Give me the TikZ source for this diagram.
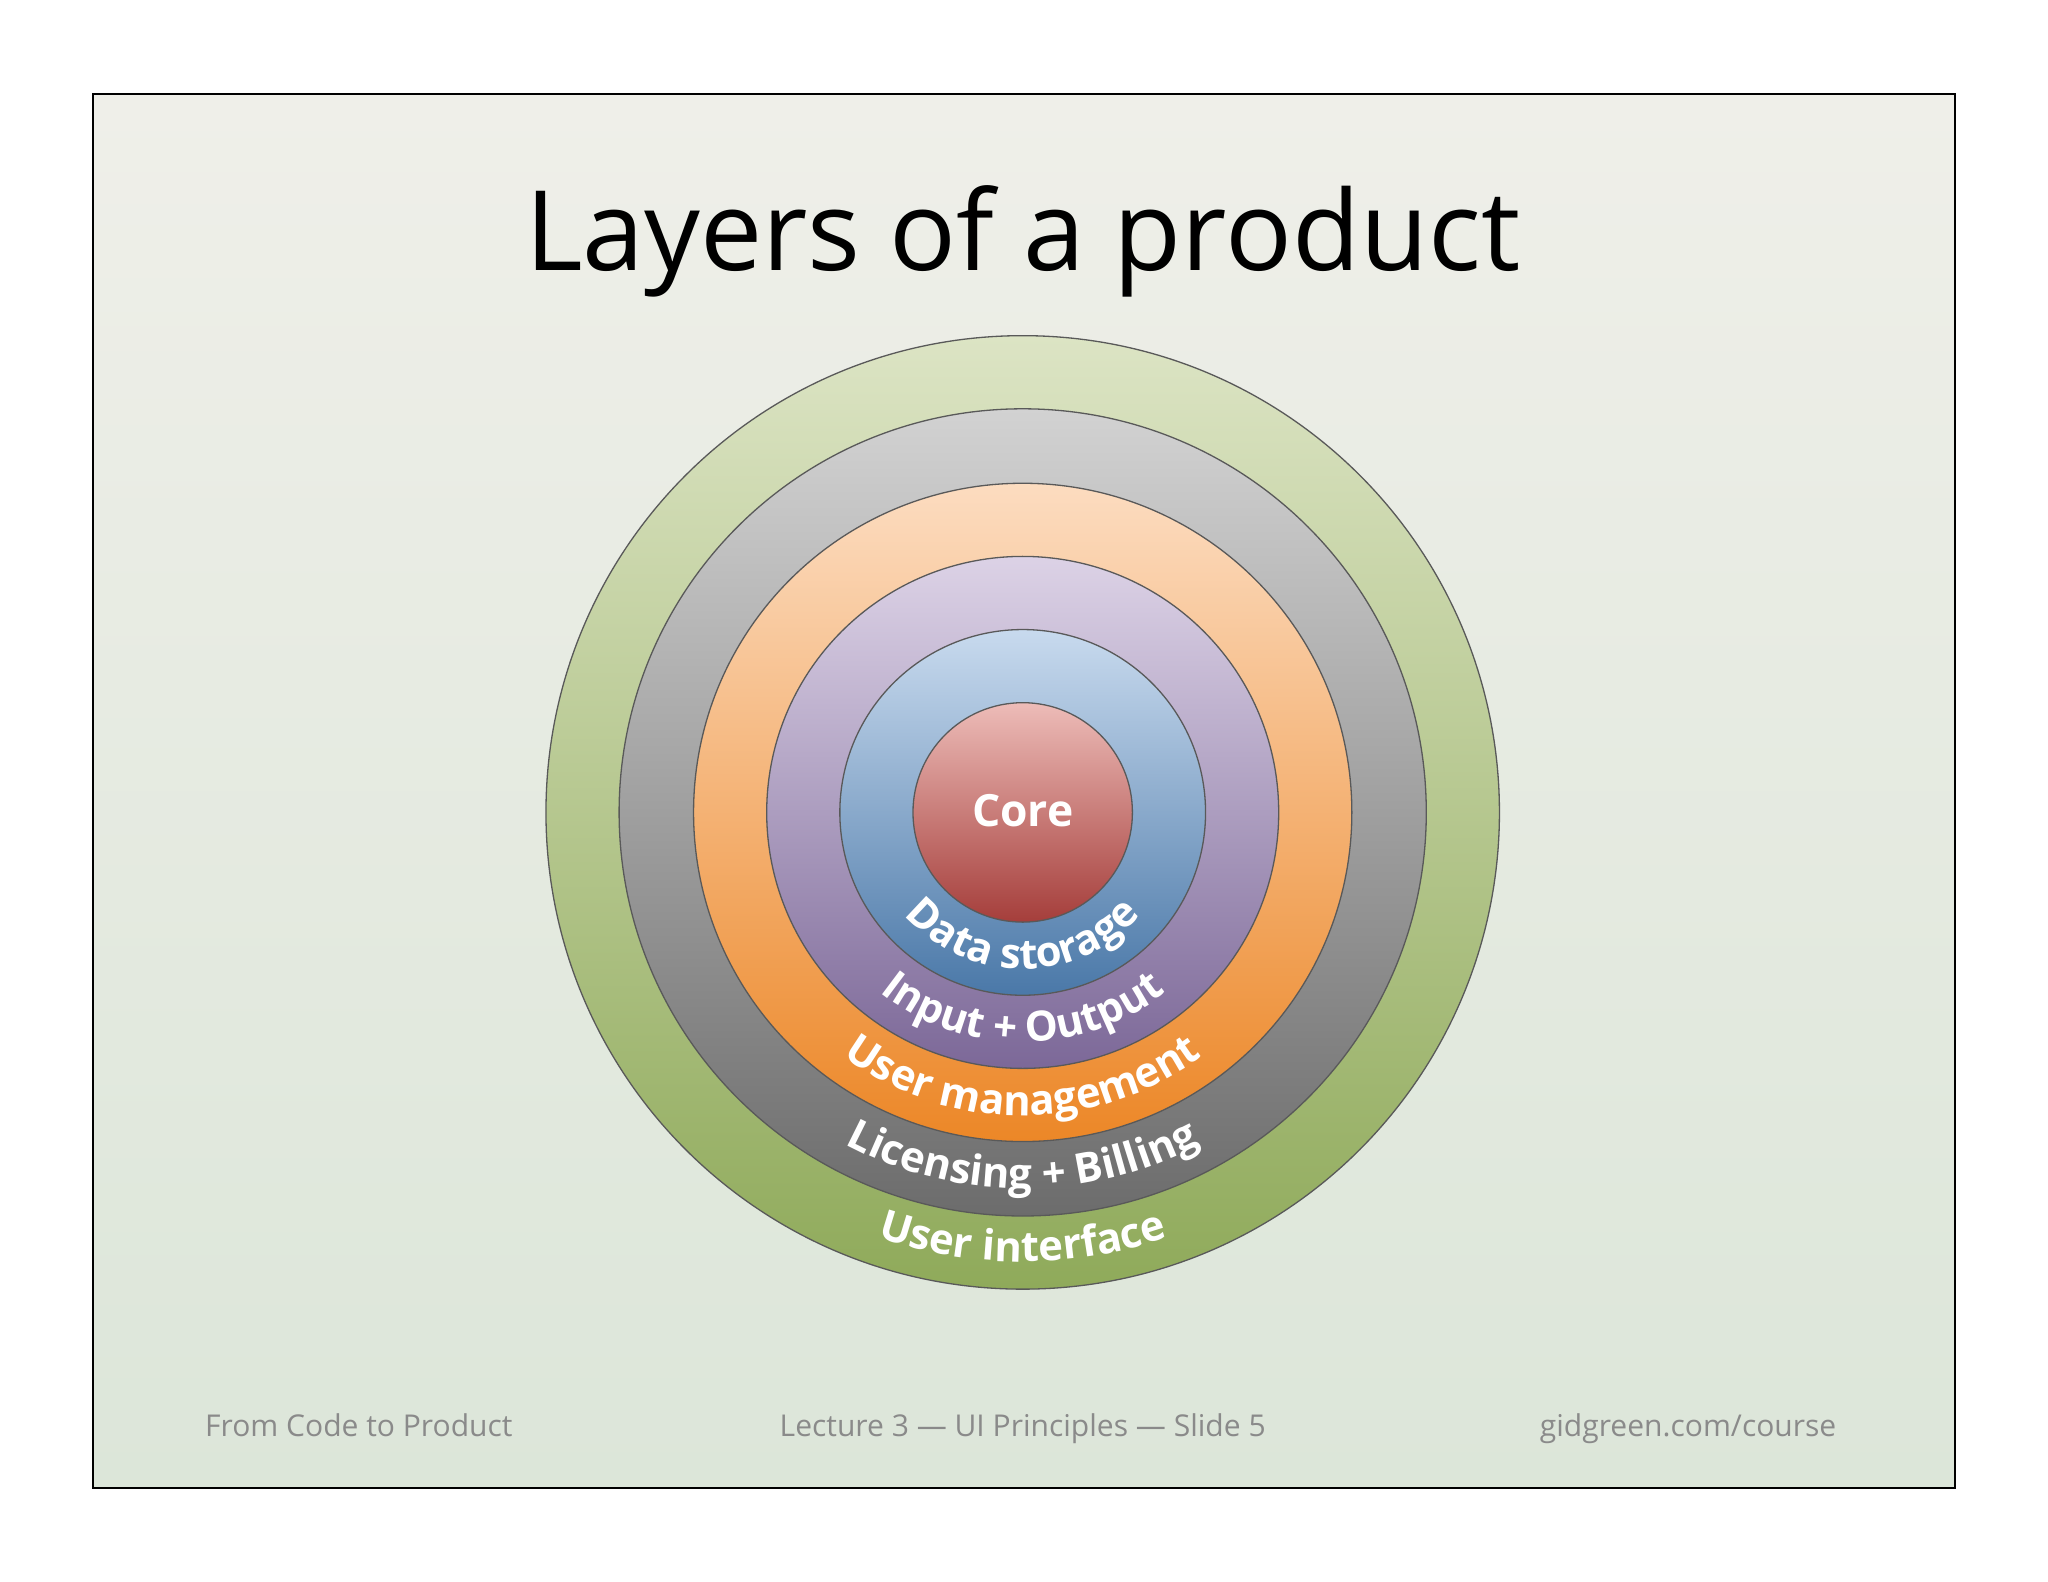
\documentclass[tikz,border=0pt]{standalone}
\usepackage{fontspec}
\setmainfont{Open Sans}
\usetikzlibrary{decorations.text,calc}
\definecolor{frametop}{HTML}{EFEFE9}
\definecolor{framebot}{HTML}{DCE6D9}
\definecolor{foot}{HTML}{8A8A8A}
\definecolor{gT}{HTML}{DCE4C4}\definecolor{gB}{HTML}{8FAA5A}
\definecolor{yT}{HTML}{D2D2D2}\definecolor{yB}{HTML}{6C6C6C}
\definecolor{oT}{HTML}{FCDCC0}\definecolor{oB}{HTML}{EC8727}
\definecolor{pT}{HTML}{DCD2E6}\definecolor{pB}{HTML}{7C6898}
\definecolor{bT}{HTML}{C8DAEE}\definecolor{bB}{HTML}{4A78A8}
\definecolor{rT}{HTML}{EDBCB8}\definecolor{rB}{HTML}{A53E3B}
\tikzset{
  ring/.style={draw=black!65, line width=0.5pt},
  arclabel/.style={decorate, decoration={text along path, text align=center,
     text={|\fontsize{16}{18}\selectfont\bfseries\color{white}|#1}}},
  foottext/.style={text=foot, font=\fontsize{11.5}{13}\selectfont, anchor=base}
}
\begin{document}
\begin{tikzpicture}[x=0.5pt,y=0.5pt]
\useasboundingbox[fill=white] (0,0) rectangle (1568,1211);
\draw[top color=frametop, bottom color=framebot, draw=black, line width=0.8pt] (71,72) rectangle (1497,1139);
\node[font=\fontsize{42.5}{48}\selectfont, anchor=base] (title) at (783,1004) {Layers of a product};
\coordinate (C) at (783,589);
\shade[top color=gT, bottom color=gB] (C) circle[radius=182.5pt];
\draw[ring] (C) circle[radius=182.5pt];
\shade[top color=yT, bottom color=yB] (C) circle[radius=154.5pt];
\draw[ring] (C) circle[radius=154.5pt];
\shade[top color=oT, bottom color=oB] (C) circle[radius=126pt];
\draw[ring] (C) circle[radius=126pt];
\shade[top color=pT, bottom color=pB] (C) circle[radius=98pt];
\draw[ring] (C) circle[radius=98pt];
\shade[top color=bT, bottom color=bB] (C) circle[radius=70pt];
\draw[ring] (C) circle[radius=70pt];
\shade[top color=rT, bottom color=rB] (C) circle[radius=42pt];
\draw[ring] (C) circle[radius=42pt];
\node[text=white, font=\fontsize{17}{20}\selectfont\bfseries] (core) at (783,590) {Core};
\path[arclabel={Data storage}] ($(C)+(190:60pt)$) arc[start angle=190,end angle=350,radius=60pt];
\path[arclabel={Input + Output}] ($(C)+(200:88pt)$) arc[start angle=200,end angle=340,radius=88pt];
\path[arclabel={User management}] ($(C)+(205:116pt)$) arc[start angle=205,end angle=335,radius=116pt];
\path[arclabel={Licensing + Billing}] ($(C)+(210:144pt)$) arc[start angle=210,end angle=330,radius=144pt];
\path[arclabel={User interface}] ($(C)+(215:172pt)$) arc[start angle=215,end angle=325,radius=172pt];
\node[foottext, anchor=base west] (f1) at (150,111) {From Code to Product};
\node[foottext] (f2) at (783,111) {Lecture 3 — UI Principles — Slide 5};
\node[foottext, anchor=base east] (f3) at (1413,111) {gidgreen.com/course};
\end{tikzpicture}
\end{document}
